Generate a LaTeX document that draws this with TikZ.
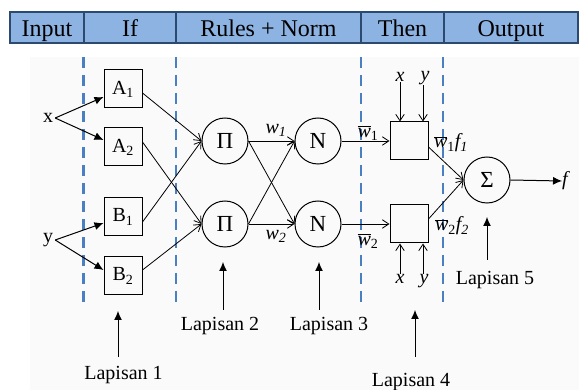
\documentclass[tikz,border=0pt]{standalone}
\usepackage{fontspec}
\setmainfont{Liberation Serif}
\usetikzlibrary{arrows.meta,calc}
\definecolor{hdrfill}{RGB}{141,179,226}
\definecolor{hdrline}{RGB}{44,74,112}
\definecolor{divider}{RGB}{74,128,194}
\definecolor{paper}{RGB}{250,250,250}
\newcommand{\wbar}[1]{$\overline{\mbox{\itshape w}}$\textsubscript{#1}}
\begin{document}
\begin{tikzpicture}[x=1pt,y=-1pt,
  hdr/.style={font=\fontsize{24}{24}\selectfont, inner sep=0pt, anchor=base},
  layerbox/.style={draw, line width=1pt, minimum width=38pt, minimum height=38pt,
    inner sep=0pt, font=\fontsize{20}{20}\selectfont},
  opnode/.style={draw, circle, line width=1pt, minimum size=46pt, inner sep=0pt,
    font=\fontsize{23}{23}\selectfont},
  lbl/.style={inner sep=0pt, font=\fontsize{20}{20}\selectfont},
  laplbl/.style={inner sep=0pt, anchor=base, font=\fontsize{20}{20}\selectfont},
  flow/.style={-{Straight Barb[length=6.5pt,width=8.5pt]}, line width=0.8pt},
  feed/.style={-{Latex[length=9pt,width=8pt]}, line width=1pt},
  divline/.style={divider, line width=2.8pt, dash pattern=on 11pt off 7pt},
]
\useasboundingbox (0,0) rectangle (579,390);
\fill[white] (0,0) rectangle (579,390);
\fill[paper] (30,57) rectangle (579,390);

% header bar with the five stages
\draw[fill=hdrfill, draw=hdrline, line width=1.3pt] (10,12) rectangle (578,43);
\foreach \sx in {84,176,361,444} \draw[hdrline, line width=1.3pt] (\sx,12) -- (\sx,43);
\node[hdr] (hInput)  at (47,37)  {Input};
\node[hdr] (hIf)     at (130,37) {If};
\node[hdr] (hRules)  at (268.5,37) {Rules + Norm};
\node[hdr] (hThen)   at (402.5,37) {Then};
\node[hdr] (hOutput) at (511,37) {Output};

% stage dividers
\foreach \sx in {83.5,176,361,443} \draw[divline] (\sx,57) -- (\sx,306);

% inputs
\node[lbl, inner sep=2pt] (xin) at (48,118) {x};
\node[lbl, inner sep=2pt] (yin) at (48,240) {y};

% layer 1: membership functions
\node[layerbox] (A1) at (123,89)  {A\textsubscript{1}};
\node[layerbox] (A2) at (123,147) {A\textsubscript{2}};
\node[layerbox] (B1) at (123,217) {B\textsubscript{1}};
\node[layerbox] (B2) at (123,276) {B\textsubscript{2}};

% layers 2 and 3
\node[opnode] (P1) at (225,141) {Π};
\node[opnode] (P2) at (225,224) {Π};
\node[opnode] (N1) at (318,141) {N};
\node[opnode] (N2) at (318,224) {N};

% layer 4
\node[layerbox] (C1) at (409,141) {};
\node[layerbox] (C2) at (409,224) {};

% layer 5
\node[opnode] (S) at (487,180) {Σ};
\node[lbl] (fout) at (565,181) {\itshape f};

% input arrows
\draw[feed] (xin.east) -- ($(A1.west)+(0,8)$);
\draw[feed] (xin.east) -- ($(A2.west)+(0,-7)$);
\draw[feed] (yin.east) -- ($(B1.west)+(0,6)$);
\draw[feed] (yin.east) -- ($(B2.west)+(0,-6)$);

% layer 1 -> layer 2
\draw[flow] ($(A1.east)+(0,4)$) -- (P1.west);
\draw[flow] ($(B1.east)+(0,5)$) -- (P1.west);
\draw[flow] ($(A2.east)+(0,-5)$) -- (P2.west);
\draw[flow] ($(B2.east)+(0,-6)$) -- (P2.west);

% layer 2 -> layer 3
\draw[flow] (P1.east) -- (N1.west);
\draw[flow] (P1.east) -- (N2.west);
\draw[flow] (P2.east) -- (N1.west);
\draw[flow] (P2.east) -- (N2.west);
\node[lbl] (w1) at (276,130) {\itshape w\textsubscript{1}};
\node[lbl] (w2) at (276,236) {\itshape w\textsubscript{2}};

% layer 3 -> layer 4
\draw[flow] (N1.east) -- (C1.west);
\draw[flow] (N2.east) -- (C2.west);
\node[lbl] (wb1) at (368,133) {\wbar{1}};
\node[lbl] (wb2) at (368,241) {\wbar{2}};

% x, y fed into layer 4
\node[lbl] (cx1) at (400,77) {\itshape x};
\node[lbl] (cy1) at (425,78) {\itshape y};
\node[lbl] (cx2) at (400,279) {\itshape x};
\node[lbl] (cy2) at (424,281) {\itshape y};
\draw[flow] (cx1.south) -- (cx1.south |- C1.north);
\draw[flow] ($(cy1.south)+(-2,0)$) -- ($(cy1.south |- C1.north)+(-2,0)$);
\draw[flow] (cx2.north) -- (cx2.north |- C2.south);
\draw[flow] ($(cy2.north)+(-1,0)$) -- ($(cy2.north |- C2.south)+(-1,0)$);

% layer 4 -> layer 5 -> output
\draw[flow] ($(C1.east)+(0,6)$) -- (S.west);
\draw[flow] ($(C2.east)+(0,-5)$) -- (S.west);
\node[lbl] (wf1) at (451,143) {\wbar{1}\itshape f\textsubscript{1}};
\node[lbl] (wf2) at (452,226) {\wbar{2}\itshape f\textsubscript{2}};
\draw[feed] (S.east) -- (fout.west);

% layer captions
\node[laplbl] (L1) at (123.5,380) {Lapisan 1};
\node[laplbl] (L2) at (220,331) {Lapisan 2};
\node[laplbl] (L3) at (329,331) {Lapisan 3};
\node[laplbl] (L4) at (411,387) {Lapisan 4};
\node[laplbl] (L5) at (495,285) {Lapisan 5};
\coordinate (t1) at (118,311); \coordinate (b1) at (118,357);
\coordinate (t2) at (223,262); \coordinate (b2) at (223,310);
\coordinate (t3) at (319,262); \coordinate (b3) at (319,310);
\coordinate (t4) at (415,310); \coordinate (b4) at (415,357);
\coordinate (t5) at (487,217); \coordinate (b5) at (487,260);
\foreach \k in {1,...,5} \draw[feed] (b\k) -- (t\k);
\end{tikzpicture}
\end{document}
